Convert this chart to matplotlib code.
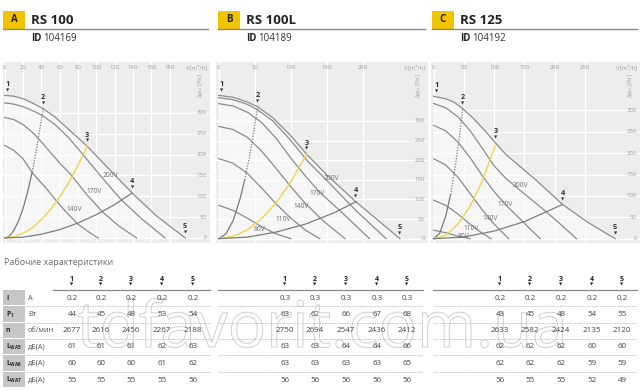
import matplotlib
matplotlib.use("Agg")
import matplotlib.pyplot as plt
import matplotlib.patheffects as pe
from matplotlib.patches import Rectangle

plt.rcParams["font.family"] = ["Open Sans", "DejaVu Sans"]
plt.rcParams["mathtext.fontset"] = "custom"
plt.rcParams["mathtext.rm"] = "Open Sans"
plt.rcParams["mathtext.bf"] = "Open Sans:bold"
plt.rcParams["mathtext.it"] = "Open Sans:italic"

# --- headers
LETTERS = ["A", "B", "C"]
MODELS = ["RS 100", "RS 100L", "RS 125"]
IDS = ["104169", "104189", "104192"]

# --- axis ticks
A_XTICKS = [0, 20, 40, 60, 80, 100, 120, 140, 160, 180]
B_XTICKS = [0, 50, 100, 150, 200]
C_XTICKS = [0, 50, 100, 150, 200, 250]
YTICKS = [0, 50, 100, 150, 200, 250, 300]

# --- RS 100 curves (V m3/h, dp Pa)
A_MAX_X = [0, 10, 20, 30, 42, 55, 70, 90, 110, 139, 165, 197]
A_MAX_Y = [342, 340, 334, 324, 310, 290, 260, 220, 174, 108, 54, 0]
A_200_X = [0, 10, 20, 30, 41, 55, 70, 85, 105, 127, 150, 175]
A_200_Y = [324, 321, 315, 306, 294, 272, 240, 201, 148, 92, 45, 0]
A_170_X = [0, 10, 20, 30, 37, 50, 60, 73, 90, 107, 125, 144]
A_170_Y = [289, 284, 272, 254, 238, 205, 180, 150, 103, 62, 28, 0]
A_140_X = [0, 10, 20, 31, 45, 56, 68, 80, 92, 102]
A_140_Y = [222, 210, 190, 154, 120, 90, 60, 33, 14, 0]
A_SYS2_X = [0, 5, 10, 15, 20, 25, 30, 35, 42]
A_SYS2_Y = [0, 4, 18, 40, 70, 110, 158, 216, 310]
A_SYS3_X = [0, 10, 20, 30, 40, 50, 60, 70, 80, 90]
A_SYS3_Y = [0, 3, 11, 24, 44, 68, 98, 133, 174, 220]
A_SYS4_X = [0, 20, 40, 60, 80, 100, 120, 139]
A_SYS4_Y = [0, 2, 9, 20, 36, 56, 80, 108]
A_MK_X = [3.6, 42, 90, 139, 197]
A_MK_Y = [341, 310, 220, 108, 0]
A_VLBL = ["200V", "170V", "140V"]
A_VLBL_X = [115, 98, 76]
A_VLBL_Y = [150, 112, 68]

# --- RS 100L curves
B_MAX_X = [0, 20, 40, 54, 75, 100, 122, 150, 190, 220, 251]
B_MAX_Y = [365, 360, 348, 336, 308, 262, 215, 162, 94, 48, 0]
B_200_X = [0, 20, 40, 54, 75, 100, 122, 150, 190, 232]
B_200_Y = [359, 354, 342, 328, 300, 250, 200, 148, 72, 0]
B_170_X = [0, 20, 40, 60, 80, 100, 120, 140, 170, 209]
B_170_Y = [344, 338, 322, 295, 255, 205, 160, 118, 68, 0]
B_140_X = [0, 20, 40, 60, 80, 100, 120, 145, 175]
B_140_Y = [286, 278, 258, 222, 178, 132, 90, 45, 0]
B_110_X = [0, 20, 40, 60, 80, 100, 120, 140]
B_110_Y = [204, 192, 166, 128, 88, 52, 22, 0]
B_80_X = [0, 20, 40, 60, 80, 100]
B_80_Y = [85, 72, 52, 30, 12, 0]
B_SYS2_X = [0, 10, 20, 30, 36, 42, 47, 54]
B_SYS2_Y = [0, 12, 46, 104, 149, 203, 254, 336]
B_SYS3_X = [0, 20, 40, 60, 80, 100, 122]
B_SYS3_Y = [0, 6, 23, 52, 92, 145, 215]
B_SYS4_X = [0, 40, 80, 120, 160, 190]
B_SYS4_Y = [0, 4, 17, 37, 66, 94]
B_MK_X = [4.6, 54, 122, 190, 251]
B_MK_Y = [364, 336, 215, 94, 0]
B_VLBL = ["200V", "170V", "140V", "110V", "80V"]
B_VLBL_X = [156, 137, 114, 89, 56]
B_VLBL_Y = [153, 115, 81, 48, 23]

# --- RS 125 curves
C_MAX_X = [0, 20, 35, 48, 65, 85, 102, 120, 140, 170, 213, 255, 300]
C_MAX_Y = [333, 327, 318, 304, 282, 252, 224, 196, 172, 136, 80, 38, 0]
C_200_X = [0, 20, 40, 60, 80, 100, 120, 150, 180, 208, 236]
C_200_Y = [316, 306, 285, 253, 212, 170, 140, 105, 70, 36, 0]
C_170_X = [0, 20, 40, 60, 80, 100, 120, 150, 176]
C_170_Y = [265, 252, 226, 190, 148, 110, 78, 36, 0]
C_140_X = [0, 20, 40, 60, 80, 100, 124]
C_140_Y = [187, 172, 144, 106, 68, 34, 0]
C_110_X = [0, 20, 40, 60, 80, 95]
C_110_Y = [90, 78, 58, 34, 13, 0]
C_80_X = [0, 20, 40, 60]
C_80_Y = [20, 14, 6, 0]
C_SYS2_X = [0, 10, 20, 28, 36, 42, 48]
C_SYS2_Y = [0, 13, 53, 103, 171, 233, 304]
C_SYS3_X = [0, 20, 40, 60, 80, 102]
C_SYS3_Y = [0, 8, 34, 75, 134, 218]
C_SYS4_X = [0, 50, 100, 150, 213]
C_SYS4_Y = [0, 4, 18, 40, 80]
C_MK_X = [5.5, 48, 102, 213, 300]
C_MK_Y = [331, 304, 224, 80, 0]
C_VLBL = ["200V", "170V", "140V", "110V", "80V"]
C_VLBL_X = [143, 118, 93, 62, 49]
C_VLBL_Y = [125, 80, 47, 23, 5]

# --- table
ROW_SYM = ["I", r"$\mathbf{P_1}$", "n", r"$\mathbf{L_{WA5}}$", r"$\mathbf{L_{WA6}}$", r"$\mathbf{L_{WA7}}$"]
ROW_UNIT = ["А", "Вт", "об/мин", "дБ(А)", "дБ(А)", "дБ(А)"]
A_TAB = [["0.2"] * 5, [44, 45, 48, 53, 54], [2677, 2616, 2456, 2267, 2188],
         [61, 61, 61, 62, 63], [60, 60, 60, 61, 62], [55, 55, 55, 55, 56]]
B_TAB = [["0.3"] * 5, [63, 62, 66, 67, 68], [2750, 2694, 2547, 2436, 2412],
         [63, 63, 64, 64, 66], [63, 63, 63, 63, 65], [56, 56, 56, 56, 56]]
C_TAB = [["0.2"] * 5, [43, 45, 48, 54, 55], [2633, 2582, 2424, 2135, 2120],
         [62, 62, 62, 60, 60], [62, 62, 62, 59, 59], [56, 55, 55, 52, 49]]

YELLOW = "#f2c400"
CURVE = "#8c8c8c"
TICKC = "#a0a0a0"

W, H = 640, 391
fig = plt.figure(figsize=(6.4, 3.91), dpi=100)

panels = [
    dict(rect=(3, 62, 210, 243), xlim=(-1.8, 224), ylim=(-12, 422), xticks=A_XTICKS,
         curves=[(A_MAX_X, A_MAX_Y), (A_200_X, A_200_Y), (A_170_X, A_170_Y), (A_140_X, A_140_Y)],
         sys2=(A_SYS2_X, A_SYS2_Y), sys2_solid=6, sys3=(A_SYS3_X, A_SYS3_Y), sys4=(A_SYS4_X, A_SYS4_Y),
         mk=(A_MK_X, A_MK_Y), lbl=(A_VLBL, A_VLBL_X, A_VLBL_Y)),
    dict(rect=(216, 62, 428, 243), xlim=(-3.7, 290), ylim=(-11, 450), xticks=B_XTICKS,
         curves=[(B_MAX_X, B_MAX_Y), (B_200_X, B_200_Y), (B_170_X, B_170_Y), (B_140_X, B_140_Y),
                 (B_110_X, B_110_Y), (B_80_X, B_80_Y)],
         sys2=(B_SYS2_X, B_SYS2_Y), sys2_solid=4, sys3=(B_SYS3_X, B_SYS3_Y), sys4=(B_SYS4_X, B_SYS4_Y),
         mk=(B_MK_X, B_MK_Y), lbl=(B_VLBL, B_VLBL_X, B_VLBL_Y)),
    dict(rect=(431, 62, 640, 243), xlim=(-4.4, 341), ylim=(-10, 413), xticks=C_XTICKS,
         curves=[(C_MAX_X, C_MAX_Y), (C_200_X, C_200_Y), (C_170_X, C_170_Y), (C_140_X, C_140_Y),
                 (C_110_X, C_110_Y), (C_80_X, C_80_Y)],
         sys2=(C_SYS2_X, C_SYS2_Y), sys2_solid=3, sys3=(C_SYS3_X, C_SYS3_Y), sys4=(C_SYS4_X, C_SYS4_Y),
         mk=(C_MK_X, C_MK_Y), lbl=(C_VLBL, C_VLBL_X, C_VLBL_Y)),
]

for p in panels:
    x0, y0, x1, y1 = p["rect"]
    ax = fig.add_axes([x0 / W, 1 - y1 / H, (x1 - x0) / W, (y1 - y0) / H])
    ax.set_facecolor("#ededed")
    ax.set_xlim(*p["xlim"])
    ax.set_ylim(*p["ylim"])
    ax.set_xticks(p["xticks"])
    ax.set_yticks(YTICKS)
    ax.tick_params(length=0, labelbottom=False, labelleft=False)
    ax.grid(True, color="white", linewidth=0.9)
    ax.set_axisbelow(True)
    for s in ax.spines.values():
        s.set_visible(False)

    mx, my = p["curves"][0]
    ax.fill_between(mx, my, 0, color="white", alpha=0.55, zorder=1, linewidth=0)
    for cx, cy in p["curves"]:
        ax.plot(cx, cy, color=CURVE, lw=0.9, zorder=3)

    sx, sy = p["sys2"]
    k = p["sys2_solid"]
    ax.plot(sx[:k + 1], sy[:k + 1], color="#7a7a7a", lw=0.9, zorder=3)
    ax.plot(sx[k:], sy[k:], color="#7a7a7a", lw=0.9, ls=(0, (1, 1.2)), zorder=3)
    ax.plot(*p["sys3"], color="#f2d34a", lw=1.0, zorder=3)
    ax.plot(*p["sys4"], color="#7d7d7d", lw=0.9, zorder=3)

    names, lx, ly = p["lbl"]
    for t, xx, yy in zip(names, lx, ly):
        ax.text(xx, yy, t, fontsize=4.8, color="#6e6e6e", ha="center", va="center", zorder=4)

    for i, (xx, yy) in enumerate(zip(*p["mk"])):
        ax.annotate(str(i + 1), (xx, yy), xytext=(0, 8), textcoords="offset points",
                    ha="center", va="center", fontsize=5.3, fontweight="bold", color="#333333",
                    zorder=5, annotation_clip=False)
        ax.annotate("▼", (xx, yy), xytext=(0, 3.8), textcoords="offset points",
                    ha="center", va="center", fontsize=3, color="#333333",
                    family="DejaVu Sans", zorder=5, annotation_clip=False)

    for t in p["xticks"]:
        ax.text(t, 0.972, str(t), transform=ax.get_xaxis_transform(), fontsize=4.3,
                color=TICKC, ha="center", va="center")
    ax.text(0.985, 0.972, "V[m³/h]", transform=ax.transAxes, fontsize=4.3,
            color=TICKC, ha="right", va="center")
    for t in YTICKS:
        ax.text(0.985, t, str(t), transform=ax.get_yaxis_transform(), fontsize=4.3,
                color=TICKC, ha="right", va="center")
    ax.text(0.985, 0.87, r"$\Delta p_{fa}$ [Pa]", transform=ax.transAxes, fontsize=4.3,
            color=TICKC, ha="right", va="center", rotation=90)

# overlay in pixel coordinates for headers and table
ov = fig.add_axes([0, 0, 1, 1], zorder=10)
ov.set_xlim(0, W)
ov.set_ylim(H, 0)
ov.axis("off")

HEAD_X = [3, 218, 432]
LINE_END = [208, 425, 637]
for hx, le, letter, model, pid in zip(HEAD_X, LINE_END, LETTERS, MODELS, IDS):
    ov.add_patch(Rectangle((hx, 11), 22, 17.5, color=YELLOW, lw=0))
    ov.text(hx + 11, 20, letter, fontsize=7, fontweight="bold", color="#222222", ha="center", va="center")
    ov.text(hx + 28, 20, model, fontsize=9.5, fontweight="bold", color="#222222", ha="left", va="center")
    ov.plot([hx, le], [29, 29], color="#8a8a8a", lw=1.0)
    ov.text(hx + 28, 38.5, "ID", fontsize=7, fontweight="bold", color="#222222", ha="left", va="center")
    ov.text(hx + 40, 38.5, pid, fontsize=7, color="#333333", ha="left", va="center")

ov.text(4, 262, "Рабочие характеристики", fontsize=6.5, color="#6a6a6a", ha="left", va="center")

TAB_COLS = [[72, 101, 131, 162, 193], [285, 315, 346, 377, 407], [500, 530, 561, 592, 622]]
TAB_SPAN = [(53, 210), (218, 423), (433, 637)]
DOT_SPAN = [(26, 210), (218, 423), (433, 637)]
ROW_Y = [298, 314.5, 331, 347, 363.5, 380]
ROW_EDGES = [290, 306, 322.5, 339, 355, 371.5, 388]

for r, (sym, unit) in enumerate(zip(ROW_SYM, ROW_UNIT)):
    ov.add_patch(Rectangle((3, ROW_EDGES[r]), 22, ROW_EDGES[r + 1] - ROW_EDGES[r] - 0.6,
                           color="#c6c6c6", lw=0))
    ov.text(6, ROW_Y[r], sym, fontsize=4.8, fontweight="bold", color="#222222", ha="left", va="center")
    ov.text(28, ROW_Y[r], unit, fontsize=5.3, color="#555555", ha="left", va="center")

for cols, span, dspan, tab in zip(TAB_COLS, TAB_SPAN, DOT_SPAN, [A_TAB, B_TAB, C_TAB]):
    ov.plot(span, [290, 290], color="#8a8a8a", lw=0.9)
    for e in ROW_EDGES[1:-1]:
        ov.plot(dspan, [e, e], color="#b0b0b0", lw=0.6, ls=(0, (1, 1)))
    for i, cx in enumerate(cols):
        ov.text(cx, 279.5, str(i + 1), fontsize=5, fontweight="bold", color="#222222", ha="center", va="center")
        ov.text(cx, 284.5, "▼", fontsize=3, color="#222222", ha="center", va="center", family="DejaVu Sans")
        for r in range(6):
            ov.text(cx, ROW_Y[r], str(tab[r][i]), fontsize=5.8, color="#444444", ha="center", va="center")

# watermark, drawn as a light outline over the table
ov.text(322, 330, "tdfavorit.com.ua", fontsize=46, color=(1, 1, 1, 0.12), ha="center", va="center",
        zorder=0.5, path_effects=[pe.Stroke(linewidth=0.7, foreground="#cdcdcd"), pe.Normal()])

fig.savefig("out.png", dpi=100, facecolor="white")
